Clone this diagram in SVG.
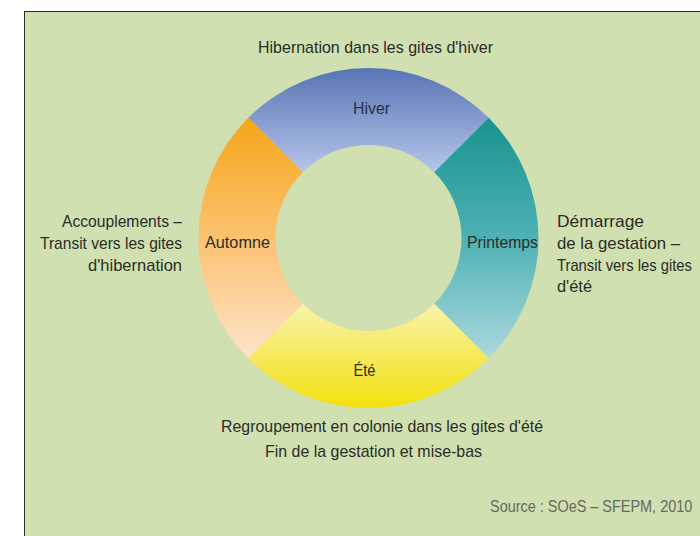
<svg xmlns="http://www.w3.org/2000/svg" width="700" height="536" viewBox="0 0 700 536">
<defs>
<linearGradient id="gH" x1="0" y1="0" x2="0" y2="1"><stop offset="0" stop-color="#5874b5"/><stop offset="1" stop-color="#b6c6ea"/></linearGradient>
<linearGradient id="gP" x1="0" y1="0" x2="0" y2="1"><stop offset="0" stop-color="#17938e"/><stop offset="0.5" stop-color="#4fb1b5"/><stop offset="1" stop-color="#acd9de"/></linearGradient>
<linearGradient id="gE" x1="0" y1="0" x2="0" y2="1"><stop offset="0" stop-color="#f8f3ac"/><stop offset="1" stop-color="#f4e00c"/></linearGradient>
<linearGradient id="gA" x1="0" y1="0" x2="0" y2="1"><stop offset="0" stop-color="#f5a519"/><stop offset="0.5" stop-color="#fbc270"/><stop offset="1" stop-color="#fde3cb"/></linearGradient>
<style>
text{font-family:"Liberation Sans",Arial,sans-serif;font-size:17px;fill:#2b2d27}
.src{fill:#67695f}
</style>
</defs>
<rect x="0" y="0" width="700" height="536" fill="#ffffff"/>
<rect x="24.5" y="11.5" width="700" height="600" fill="#d1e0b1" stroke="#2e2e2e" stroke-width="1"/>
<g id="hiver">
<path d="M248.3,117.8 A170,170 0 0 1 488.7,117.8 L434.26,172.24 A93,93 0 0 0 302.74,172.24 Z" fill="url(#gH)"/>
<text x="353" y="114" textLength="37" lengthAdjust="spacingAndGlyphs" style="fill:#27304a">Hiver</text>
<text x="258" y="53" textLength="235" lengthAdjust="spacingAndGlyphs">Hibernation dans les gites d'hiver</text>
</g>
<g id="printemps">
<path d="M488.7,117.8 A170,170 0 0 1 488.7,358.2 L434.26,303.76 A93,93 0 0 0 434.26,172.24 Z" fill="url(#gP)"/>
<text x="467" y="248" textLength="71" lengthAdjust="spacingAndGlyphs">Printemps</text>
<text x="557" y="227" textLength="87" lengthAdjust="spacingAndGlyphs">Démarrage</text>
<text x="557" y="249" textLength="123" lengthAdjust="spacingAndGlyphs">de la gestation –</text>
<text transform="translate(557,270.5) scale(0.87,1)" x="0" y="0">Transit vers les gites</text>
<text x="557" y="292" textLength="35" lengthAdjust="spacingAndGlyphs">d'été</text>
</g>
<g id="ete">
<path d="M488.7,358.2 A170,170 0 0 1 248.3,358.2 L302.74,303.76 A93,93 0 0 0 434.26,303.76 Z" fill="url(#gE)"/>
<text x="353.5" y="376" textLength="22" lengthAdjust="spacingAndGlyphs">Été</text>
<text x="221" y="432" textLength="322" lengthAdjust="spacingAndGlyphs">Regroupement en colonie dans les gites d'été</text>
<text x="265" y="457" textLength="217" lengthAdjust="spacingAndGlyphs">Fin de la gestation et mise-bas</text>
</g>
<g id="automne">
<path d="M248.3,358.2 A170,170 0 0 1 248.3,117.8 L302.74,172.24 A93,93 0 0 0 302.74,303.76 Z" fill="url(#gA)"/>
<text x="205" y="248" textLength="65" lengthAdjust="spacingAndGlyphs">Automne</text>
<text x="62" y="227" textLength="120" lengthAdjust="spacingAndGlyphs">Accouplements –</text>
<text x="40" y="249" textLength="142" lengthAdjust="spacingAndGlyphs">Transit vers les gites</text>
<text x="88" y="271" textLength="94" lengthAdjust="spacingAndGlyphs">d'hibernation</text>
</g>
<text class="src" transform="translate(490,512) scale(0.85,1)" x="0" y="0">Source : SOeS – SFEPM, 2010</text>
</svg>
